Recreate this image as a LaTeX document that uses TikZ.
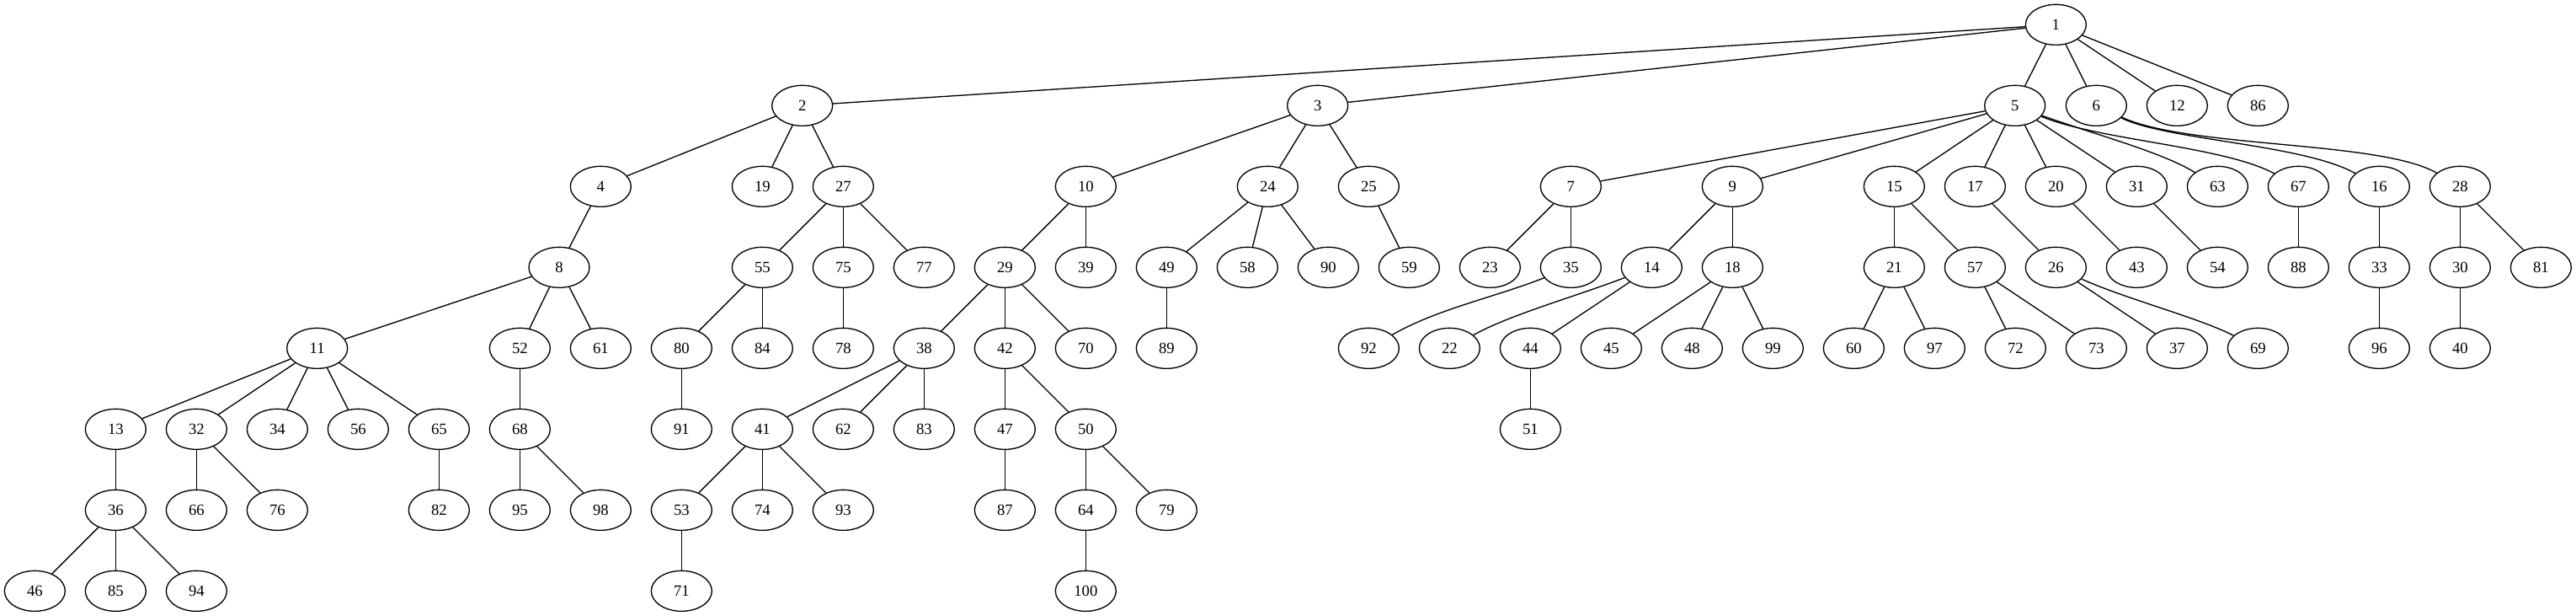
\documentclass[tikz,border=0pt]{standalone}
\usepackage{fontspec}
\setmainfont{Liberation Serif}
\usetikzlibrary{shapes.geometric}
\tikzset{
  gv/.style={ellipse, draw=black, line width=1pt, minimum width=54pt, minimum height=36pt, inner sep=0pt, font=\fontsize{14}{16}\selectfont},
  gvedge/.style={draw=black, line width=1pt}
}
\begin{document}
\begin{tikzpicture}[x=1pt,y=-1pt]
\useasboundingbox[fill=white] (0,0) rectangle (2294.25,548.25);
% row 0
\node[gv] (n1) at (1831,22) {1};
% row 1
\foreach \n/\x in {2/714.5,3/1173.5,5/1794.5,6/1867,12/1939,86/2011}
  \node[gv] (n\n) at (\x,94) {\n};
% row 2
\foreach \n/\x in {4/535,19/679,27/751,10/967,24/1129,25/1219,7/1399,9/1543,15/1687,17/1759,20/1831,31/1903,63/1975,67/2047,16/2119,28/2191}
  \node[gv] (n\n) at (\x,166) {\n};
% row 3
\foreach \n/\x in {8/498,55/679,75/751,77/823,29/895,39/967,49/1039,58/1111,90/1183,59/1255,23/1327,35/1399,14/1471,18/1543,21/1687,57/1759,26/1831,43/1903,54/1975,88/2047,33/2119,30/2191,81/2263}
  \node[gv] (n\n) at (\x,238) {\n};
% row 4
\foreach \n/\x in {11/282.5,52/463,61/535,80/607,84/679,78/751,38/823,42/895,70/967,89/1039,92/1219,22/1291,44/1363,45/1435,48/1507,99/1579,60/1651,97/1723,72/1795,73/1867,37/1939,69/2011,96/2119,40/2191}
  \node[gv] (n\n) at (\x,310) {\n};
% row 5
\foreach \n/\x in {13/103,32/175,34/247,56/319,65/391,68/463,91/607,41/679,62/751,83/823,47/895,50/967,51/1363}
  \node[gv] (n\n) at (\x,382) {\n};
% row 6
\foreach \n/\x in {36/103,66/175,76/247,82/391,95/463,98/535,53/607,74/679,93/751,87/895,64/967,79/1039}
  \node[gv] (n\n) at (\x,454) {\n};
% row 7
\foreach \n/\x in {46/31,85/103,94/175,71/607,100/967}
  \node[gv] (n\n) at (\x,526) {\n};
% straight edges
\foreach \a/\b in {1/2,1/3,1/5,1/6,1/12,1/86,
  2/4,2/19,2/27,3/10,3/24,3/25,
  5/7,5/9,5/15,5/17,5/20,5/31,
  4/8,27/55,27/75,27/77,10/29,10/39,24/49,24/58,24/90,25/59,
  7/23,7/35,9/14,9/18,15/21,15/57,17/26,20/43,31/54,67/88,16/33,28/30,28/81,
  8/11,8/52,8/61,55/80,55/84,75/78,29/38,29/42,29/70,49/89,
  14/44,18/45,18/48,18/99,21/60,21/97,57/72,57/73,26/37,33/96,30/40,
  11/13,11/32,11/34,11/56,11/65,52/68,80/91,38/41,38/62,38/83,42/47,42/50,44/51,
  13/36,32/66,32/76,65/82,68/95,68/98,41/53,41/74,41/93,47/87,50/64,50/79,
  36/46,36/85,36/94,53/71,64/100}
  \draw[gvedge] (n\a) -- (n\b);
% curved edges
\draw[gvedge] (n5) .. controls (1860,118) and (1925,135) .. (n63);
\draw[gvedge] (n5) .. controls (1870,125) and (1980,130) .. (n67);
\draw[gvedge] (n6) .. controls (1930,125) and (2050,128) .. (n16);
\draw[gvedge] (n6) .. controls (1950,132) and (2120,125) .. (n28);
\draw[gvedge] (n35) .. controls (1330,265) and (1280,275) .. (n92);
\draw[gvedge] (n14) .. controls (1400,265) and (1345,280) .. (n22);
\draw[gvedge] (n26) .. controls (1893,266) and (1959,283) .. (n69);
\end{tikzpicture}
\end{document}
